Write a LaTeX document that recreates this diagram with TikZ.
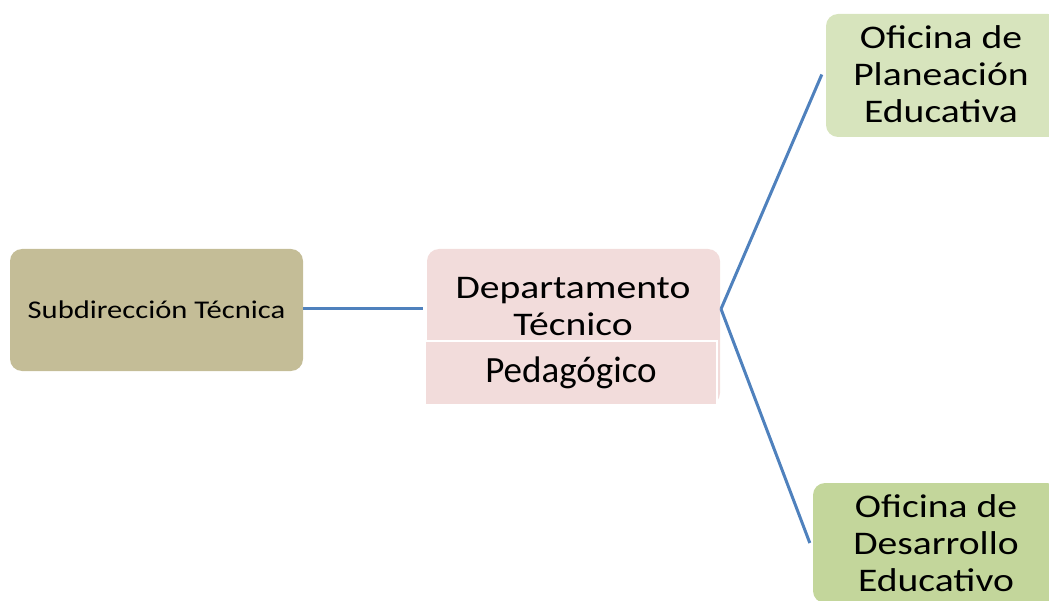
\documentclass[tikz,border=0pt]{standalone}
\usepackage{fontspec}
\setmainfont{Carlito}[FakeStretch=1.2]
\newfontfamily\pedfont{Carlito}
\definecolor{tan}{HTML}{C4BD97}
\definecolor{pinkbox}{HTML}{F2DCDB}
\definecolor{greenA}{HTML}{D7E4BD}
\definecolor{greenB}{HTML}{C3D69B}
\definecolor{linkblue}{HTML}{4F81BD}
\tikzstyle{box}=[rounded corners=12pt, inner sep=0pt, align=center]
\tikzstyle{label}=[align=center, inner sep=0pt, font=\fontsize{33}{37}\selectfont]
\tikzstyle{link}=[draw=linkblue, line width=3pt]

\begin{document}
\begin{tikzpicture}[x=1pt,y=-1pt]
            \useasboundingbox (0,0) rectangle (1049,601);
            \clip (0,0) rectangle (1049,601);
            \node[box, fill=tan, minimum width=293pt, minimum height=122pt, font=\fontsize{25.5}{30}\selectfont] at (156.5,310) (sub) {Subdirección Técnica};
            \node[box, fill=pinkbox, minimum width=293pt, minimum height=156pt] at (573.5,327) (dept) {};
            \node[label] at (573,307) (depttxt) {Departamento\\Técnico};
            \node[fill=pinkbox, draw=white, line width=1.5pt, minimum width=292pt, minimum height=64pt, inner sep=0pt, font=\pedfont\fontsize{37}{40}\selectfont] at (571,373) (ped) {Pedagógico};
            \node[box, fill=greenA, minimum width=234pt, minimum height=123pt] at (943,75.5) (plan) {};
            \node[label] at (941,74) (plantxt) {Oficina de\\Planeación\\Educativa};
            \node[box, fill=greenB, minimum width=246pt, minimum height=120pt] at (936,543) (desa) {};
            \node[label] at (936,543) (desatxt) {Oficina de\\Desarrollo\\Educativo};
            \coordinate (hub) at (721,309);
            \draw[link] (sub.east |- hub) -- (423,309);
            \draw[link] (hub) -- ([xshift=-4pt,yshift=1pt]plan.west);
            \draw[link] (hub) -- ([xshift=-3pt]desa.west);
        \end{tikzpicture}
\end{document}
